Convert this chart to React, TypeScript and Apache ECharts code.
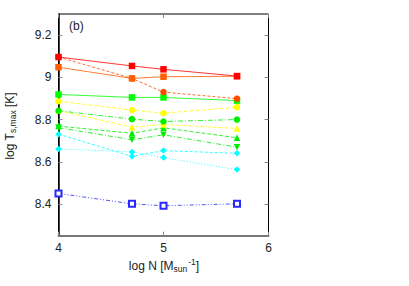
import React, { useEffect, useRef } from "react";
import * as echarts from "echarts";

// ---- data ----
const xValues = [4, 4.7, 5, 5.7];
const redSquares = [9.096, 9.054, 9.038, 9.006];
const orangeSquares = [9.048, 8.995, 9.003, 9.005];
const orangeCircles = [9.096, 8.995, 8.93, 8.899];
const greenSquares = [8.919, 8.905, 8.905, 8.89];
const yellowCircles = [8.887, 8.845, 8.83, 8.859];
const greenCircles = [8.842, 8.802, 8.791, 8.8];
const yellowTriangles = [8.842, 8.764, 8.777, 8.758];
const greenTriangles = [8.769, 8.735, 8.761, 8.714];
const greenTrianglesDown = [8.762, 8.704, 8.728, 8.669];
const cyanDiamonds = [8.731, 8.626, 8.653, 8.64];
const cyanDiamondsDotted = [8.661, 8.647, 8.62, 8.563];
const blueOpenSquares = [8.45, 8.401, 8.392, 8.401];

const yTickValues = [8.4, 8.6, 8.8, 9, 9.2];
const xTickValues = [4, 5, 6];

const FONT = "'Liberation Sans', Arial, Helvetica, sans-serif";

type Spec = {
  name: string;
  values: number[];
  color: string;
  symbol: string;
  size: number;
  dash: any;
  rotate?: number;
  open?: boolean;
};

const specs: Spec[] = [
  { name: "cyanDotted", values: cyanDiamondsDotted, color: "#00ffff", symbol: "diamond", size: 6.5, dash: [1, 2] },
  { name: "cyan", values: cyanDiamonds, color: "#00ffff", symbol: "diamond", size: 6.5, dash: [3, 2] },
  { name: "greenTriDown", values: greenTrianglesDown, color: "#00ee00", symbol: "triangle", size: 6.5, dash: [5, 2, 1, 2], rotate: 180 },
  { name: "greenTri", values: greenTriangles, color: "#00ee00", symbol: "triangle", size: 6.5, dash: [4, 2] },
  { name: "yellowTri", values: yellowTriangles, color: "#ffff00", symbol: "triangle", size: 6.5, dash: [4, 2] },
  { name: "greenCircles", values: greenCircles, color: "#00ee00", symbol: "circle", size: 6.5, dash: [5, 2, 1, 2] },
  { name: "yellowCircles", values: yellowCircles, color: "#ffff00", symbol: "circle", size: 6.5, dash: [4, 2] },
  { name: "greenSquares", values: greenSquares, color: "#00ff00", symbol: "rect", size: 6.5, dash: "solid" },
  { name: "orangeCircles", values: orangeCircles, color: "#ff4a00", symbol: "circle", size: 6.5, dash: [3, 2] },
  { name: "orangeSquares", values: orangeSquares, color: "#ff5e00", symbol: "rect", size: 6.5, dash: "solid" },
  { name: "redSquares", values: redSquares, color: "#ff0000", symbol: "rect", size: 6.5, dash: "solid" },
  { name: "blueOpen", values: blueOpenSquares, color: "#2828ff", symbol: "emptyRect", size: 6, dash: [4, 2, 1, 2, 1, 2], open: true },
];

export default function App() {
  const ref = useRef<HTMLDivElement>(null);
  useEffect(() => {
    if (!ref.current) return;
    const chart = echarts.init(ref.current, undefined, { renderer: "svg" });
    const fmt = (v: number) => String(+(+v).toFixed(2));
    const tickStyle = { show: true, inside: true, length: 4, lineStyle: { color: "#888", width: 1 } };
    chart.setOption({
      animation: false,
      grid: {
        left: 58.5,
        right: 140.5,
        top: 14,
        bottom: 50.3,
        show: true,
        borderColor: "#000",
        borderWidth: 1,
        backgroundColor: "transparent",
      },
      xAxis: [
        {
          type: "value",
          min: 4,
          max: 6,
          interval: 1,
          position: "bottom",
          axisLine: { show: true, onZero: false, lineStyle: { color: "#777", width: 2 } },
          axisTick: { ...tickStyle, customValues: xTickValues },
          axisLabel: { customValues: xTickValues, margin: 6, fontSize: 12, color: "#222", fontFamily: FONT, formatter: fmt },
          splitLine: { show: false },
        },
        {
          type: "value",
          min: 4,
          max: 6,
          interval: 1,
          position: "top",
          axisLine: { show: false },
          axisTick: { ...tickStyle, customValues: xTickValues },
          axisLabel: { show: false },
          splitLine: { show: false },
        },
      ],
      yAxis: [
        {
          type: "value",
          min: 8.25,
          max: 9.3,
          position: "left",
          axisLine: { show: true, onZero: false, lineStyle: { color: "#000", width: 1.5 } },
          axisTick: { ...tickStyle, customValues: yTickValues },
          axisLabel: { customValues: yTickValues, margin: 7, fontSize: 12, color: "#222", fontFamily: FONT, formatter: fmt },
          splitLine: { show: false },
        },
        {
          type: "value",
          min: 8.25,
          max: 9.3,
          position: "right",
          axisLine: { show: false },
          axisTick: { ...tickStyle, customValues: yTickValues },
          axisLabel: { show: false },
          splitLine: { show: false },
        },
      ],
      series: specs.map((s) => ({
        type: "line",
        name: s.name,
        xAxisIndex: 0,
        yAxisIndex: 0,
        data: xValues.map((x, i) => [x, s.values[i]]),
        symbol: s.symbol,
        symbolSize: s.size,
        symbolRotate: s.rotate ?? 0,
        showAllSymbol: true,
        lineStyle: { color: s.color, width: 1, type: s.dash, opacity: 0.8 },
        itemStyle: s.open
          ? { color: s.color, borderColor: s.color, borderWidth: 1 }
          : { color: s.color, borderWidth: 0 },
        emphasis: { disabled: true },
        z: 2,
      })),
      graphic: [
        {
          type: "text",
          left: 69,
          top: 20,
          style: { text: "(b)", fontSize: 12, fill: "#222", fontFamily: FONT },
        },
        {
          type: "text",
          x: 10,
          y: 126,
          rotation: Math.PI / 2,
          style: {
            text: "log T{sub|s,max} [K]",
            align: "center",
            verticalAlign: "middle",
            fontSize: 12,
            fill: "#222",
            fontFamily: FONT,
            rich: {
              sub: { fontSize: 8.5, fill: "#222", fontFamily: FONT, padding: [6, 0, 0, 0] },
            },
          },
        },
        {
          type: "text",
          x: 164,
          y: 266,
          style: {
            text: "log N [M{sub|sun}{sup|-1}]",
            align: "center",
            verticalAlign: "middle",
            fontSize: 12,
            fill: "#222",
            fontFamily: FONT,
            rich: {
              sub: { fontSize: 8.5, fill: "#222", fontFamily: FONT, padding: [6, 0, 0, 0] },
              sup: { fontSize: 8.5, fill: "#222", fontFamily: FONT, padding: [0, 0, 8, 1] },
            },
          },
        },
      ],
    });
    return () => chart.dispose();
  }, []);
  return (
    <div
      ref={ref}
      style={{ position: "fixed", left: 0, top: 0, width: 409, height: 286, background: "#fff" }}
    />
  );
}
